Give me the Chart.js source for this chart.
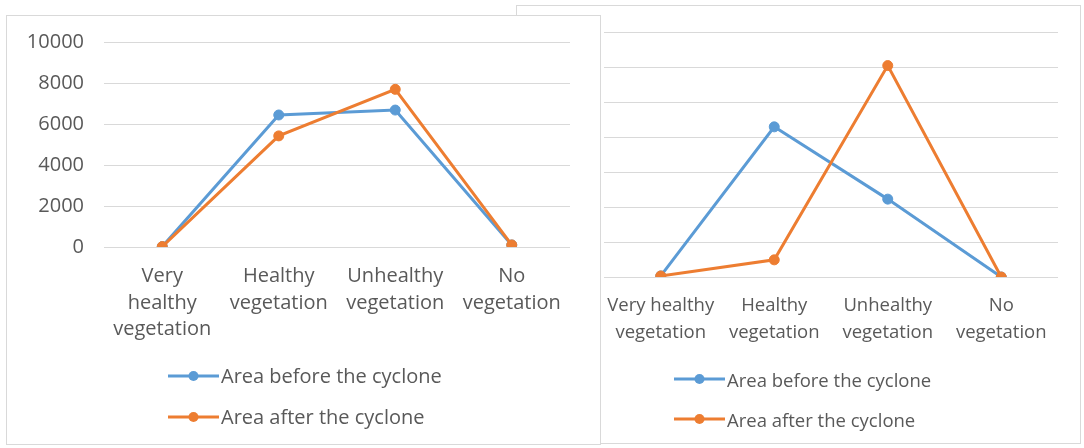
<!DOCTYPE html>
<html>
<head>
<meta charset="utf-8">
<script src="https://cdn.jsdelivr.net/npm/chart.js@4.4.1/dist/chart.umd.min.js"></script>
<style>
  html, body { margin: 0; padding: 0; background: #fff; width: 1084px; height: 448px; overflow: hidden; }
  .panel { position: absolute; background: #fff; border: 1px solid #d9d9d9; box-sizing: border-box; }
  #panelA { left: 6px; top: 15px; width: 595px; height: 430px; z-index: 2; }
  #panelB { left: 516px; top: 5px; width: 565px; height: 439px; z-index: 1; }
  .panel canvas { position: absolute; left: 0; top: 0; }
  .legend { position: absolute; font-family: 'Open Sans', sans-serif; color: #595959; }
  .legend .row { display: flex; align-items: center; white-space: nowrap; }
  .legend svg { display: block; margin-right: 2px; }
</style>
</head>
<body>
<div class="panel" id="panelA">
  <canvas id="chartA" width="593" height="428"></canvas>
  <div class="legend" id="legendA" style="left:161px; top:339px; font-size:20px;"></div>
</div>
<div class="panel" id="panelB">
  <canvas id="chartB" width="563" height="437"></canvas>
  <div class="legend" id="legendB" style="left:157px; top:353px; font-size:18.5px;"></div>
</div>
<script>
// Land-cover classes (multi-line labels as drawn under each axis)
const categoriesA = [['Very', 'healthy', 'vegetation'], ['Healthy', 'vegetation'], ['Unhealthy', 'vegetation'], ['No', 'vegetation']];
const categoriesB = [['Very healthy', 'vegetation'], ['Healthy', 'vegetation'], ['Unhealthy', 'vegetation'], ['No', 'vegetation']];

const seriesNames = ['Area before the cyclone', 'Area after the cyclone'];
const seriesColors = ['#5B9BD5', '#ED7D31'];

// First study area
const beforeA = [20, 6440, 6680, 100];
const afterA = [20, 5420, 7690, 100];
const yTicksA = [0, 2000, 4000, 6000, 8000, 10000];

// Second study area
const beforeB = [30, 4290, 2225, 0];
const afterB = [30, 490, 6040, 0];
const yTicksB = [0, 1000, 2000, 3000, 4000, 5000, 6000, 7000];

const textColor = '#595959';
const gridColor = '#d9d9d9';

function makeDatasets(before, after) {
  return [before, after].map((values, i) => ({
    label: seriesNames[i],
    data: values,
    borderColor: seriesColors[i],
    backgroundColor: seriesColors[i],
    pointBackgroundColor: seriesColors[i],
    pointBorderColor: seriesColors[i],
    borderWidth: 3,
    pointRadius: 5,
    pointBorderWidth: 1,
    tension: 0,
    order: i === 0 ? 1 : 0   // "after" series drawn on top
  }));
}

function makeChart(id, cfg) {
  return new Chart(document.getElementById(id), {
    type: 'line',
    data: { labels: cfg.categories, datasets: makeDatasets(cfg.before, cfg.after) },
    options: {
      responsive: false,
      animation: false,
      events: [],
      layout: { padding: cfg.padding },
      plugins: { legend: { display: false }, tooltip: { enabled: false } },
      scales: {
        x: {
          offset: true,
          grid: { display: false, drawTicks: false },
          border: { display: false },
          ticks: {
            autoSkip: false, maxRotation: 0, minRotation: 0,
            color: textColor, padding: cfg.xPad,
            font: { family: 'Open Sans', size: cfg.fontSize, lineHeight: cfg.lineHeight }
          },
          afterFit: s => { s.height = cfg.xHeight; }
        },
        y: {
          min: cfg.yTicks[0],
          max: cfg.yTicks[cfg.yTicks.length - 1],
          afterBuildTicks: s => { s.ticks = cfg.yTicks.map(v => ({ value: v })); },
          grid: { color: gridColor, lineWidth: 1, drawTicks: false },
          border: { display: false },
          ticks: {
            display: cfg.showY,
            color: textColor, padding: cfg.yPad,
            font: { family: 'Open Sans', size: cfg.fontSize },
            callback: v => String(v)
          },
          afterFit: s => {
            s.width = cfg.yWidth;
            // plot height is set by the layout padding alone
            s.paddingTop = 0;
            s.paddingBottom = 0;
          }
        }
      }
    }
  });
}

function buildLegend(id, rowHeight) {
  const box = document.getElementById(id);
  seriesNames.forEach((name, i) => {
    const row = document.createElement('div');
    row.className = 'row';
    row.style.height = rowHeight + 'px';
    const c = seriesColors[i];
    row.innerHTML =
      '<svg width="51" height="12" viewBox="0 0 51 12">' +
      '<line x1="0" y1="6" x2="51" y2="6" stroke="' + c + '" stroke-width="3"/>' +
      '<circle cx="25.5" cy="6" r="5" fill="' + c + '"/></svg>';
    const span = document.createElement('span');
    span.textContent = name;
    row.appendChild(span);
    box.appendChild(row);
  });
}

makeChart('chartA', {
  categories: categoriesA, before: beforeA, after: afterA, yTicks: yTicksA,
  padding: { left: 0, top: 26, right: 30, bottom: 97 },
  fontSize: 20, lineHeight: 1.33, xPad: 16, xHeight: 100,
  yWidth: 97, yPad: 20, showY: true
});

makeChart('chartB', {
  categories: categoriesB, before: beforeB, after: afterB, yTicks: yTicksB,
  padding: { left: 0, top: 26, right: 22, bottom: 66 },
  fontSize: 18.5, lineHeight: 1.46, xPad: 15, xHeight: 100,
  yWidth: 87, yPad: 20, showY: false
});

buildLegend('legendA', 41);
buildLegend('legendB', 40);
</script>
</body>
</html>
